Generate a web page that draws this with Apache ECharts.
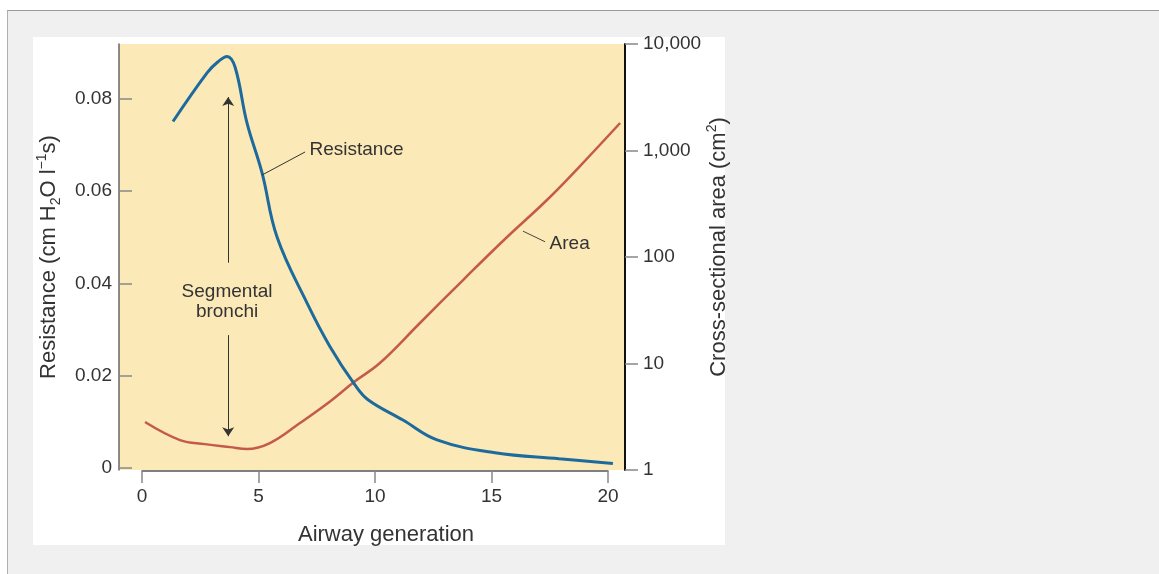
<!DOCTYPE html>
<html>
<head>
<meta charset="utf-8">
<script src="https://cdn.jsdelivr.net/npm/echarts@6/dist/echarts.min.js"></script>
<style>
  html, body { margin: 0; padding: 0; background: #fff; }
  #frame { position: absolute; left: 7px; top: 10px; right: 0; bottom: 0; background: #f0f0f0; border-top: 1px solid #9a9a9a; border-left: 1px solid #b0b0b0; }
  #panel { position: absolute; left: 33px; top: 37px; width: 692px; height: 508px; background: #fff; }
  #chart { position: absolute; left: 0; top: 0; width: 1159px; height: 574px; }
</style>
</head>
<body>
<div id="frame"></div>
<div id="panel"></div>
<div id="chart"></div>
<script>
// airway generation vs resistance (left axis)
const genResistance = [1.33, 2.8, 3.25, 3.65, 4.0, 4.5, 5.15, 5.8, 7.08, 8.07, 9.14, 9.7, 11.2, 12.66, 15.15, 17.9, 20.21];
const resistance = [0.0751, 0.0857, 0.088, 0.0892, 0.0868, 0.0749, 0.064, 0.05, 0.0358, 0.0263, 0.018, 0.0148, 0.0104, 0.0061, 0.0033, 0.002, 0.001];

// airway generation vs cross-sectional area (right axis, log)
const genArea = [0.13, 1.63, 2.7, 3.78, 4.51, 5.49, 6.78, 8.07, 9.14, 10.21, 11.93, 13.78, 15.58, 17.38, 18.8, 20.52];
const area = [2.82, 1.91, 1.75, 1.64, 1.575, 1.79, 2.76, 4.4, 6.8, 10.1, 24.0, 60.8, 147.6, 343, 715, 1812];

const resistanceTicks = [0, 0.02, 0.04, 0.06, 0.08];

// annotations (data space)
const segmentalX = 3.7;
const segmentalUp = [0.0445, 0.0804];
const segmentalDown = [0.0288, 0.0069];
const segmentalText = [3.65, 0.0361];
const resistanceLeader = [[5.15, 0.0635], [7.0, 0.0685]];
const areaLeader = [[16.35, 175], [17.3, 139]];

const FONT = '"Liberation Sans", Arial, Helvetica, sans-serif';
const TXT = '#333';

const chart = echarts.init(document.getElementById('chart'));

const option = {
  animation: false,
  textStyle: { fontFamily: FONT },
  grid: [
    { left: 119, top: 44, width: 506, height: 426, show: true, backgroundColor: '#fce9b8', borderWidth: 0, outerBoundsMode: 'none', containLabel: false },
    { left: 142, top: 470, width: 466, height: 1, show: false, outerBoundsMode: 'none', containLabel: false }
  ],
  xAxis: [
    { gridIndex: 0, type: 'value', min: -0.987, max: 20.73, show: false },
    {
      gridIndex: 1, type: 'value', min: 0, max: 20, interval: 5, position: 'bottom',
      axisLine: { onZero: false, lineStyle: { color: '#555', width: 1.5 } },
      axisTick: { show: true, length: 12, lineStyle: { color: '#888', width: 1.5 } },
      axisLabel: { margin: 16, fontSize: 19, color: TXT, fontFamily: FONT },
      splitLine: { show: false },
      name: 'Airway generation', nameLocation: 'middle', nameGap: 53,
      nameTextStyle: { fontSize: 22, color: TXT, fontFamily: FONT, padding: [0, 0, 0, 22] }
    }
  ],
  yAxis: [
    {
      gridIndex: 0, type: 'value', min: -0.00043, max: 0.0919, position: 'left',
      axisLine: { show: true, onZero: false, lineStyle: { color: '#666', width: 1.5 } },
      axisTick: { show: true, inside: true, length: 13, customValues: resistanceTicks, lineStyle: { color: '#888', width: 1.5 } },
      axisLabel: { margin: 7, fontSize: 19, color: TXT, fontFamily: FONT, customValues: resistanceTicks,
        formatter: v => (v === 0 ? '0' : v.toFixed(2)) },
      splitLine: { show: false },
      name: '{n|Resistance (cm H}{sub|2}{n|O l}{sup|\u22121}{n|s)}',
      nameLocation: 'middle', nameGap: 56,
      nameTextStyle: {
        color: TXT, fontFamily: FONT, fontSize: 22,
        rich: {
          n: { fontSize: 22, lineHeight: 28, color: TXT, fontFamily: FONT },
          sub: { fontSize: 14, lineHeight: 14, verticalAlign: 'bottom', color: TXT, fontFamily: FONT },
          sup: { fontSize: 14, lineHeight: 14, verticalAlign: 'top', color: TXT, fontFamily: FONT }
        }
      }
    },
    {
      gridIndex: 0, type: 'log', logBase: 10, min: 1, max: 10000, interval: 1, position: 'right',
      axisLine: { show: true, onZero: false, lineStyle: { color: '#111', width: 2 } },
      axisTick: { show: true, inside: false, length: 13, lineStyle: { color: '#888', width: 1.5 } },
      axisLabel: { margin: 18, fontSize: 19, color: TXT, fontFamily: FONT,
        formatter: v => Math.round(v).toLocaleString('en-US') },
      splitLine: { show: false },
      minorTick: { show: false },
      name: '{n|Cross-sectional area (cm}{sup|2}{n|)}',
      nameLocation: 'middle', nameGap: 73,
      nameTextStyle: {
        color: TXT, fontFamily: FONT, fontSize: 22, padding: [0, 0, 0, 20],
        rich: {
          n: { fontSize: 22, lineHeight: 28, color: TXT, fontFamily: FONT },
          sup: { fontSize: 14, lineHeight: 14, verticalAlign: 'top', color: TXT, fontFamily: FONT }
        }
      }
    },
    { gridIndex: 1, type: 'value', min: 0, max: 1, show: false }
  ],
  series: [
    {
      name: 'Area',
      type: 'line',
      xAxisIndex: 0,
      yAxisIndex: 1,
      data: genArea.map((g, i) => [g, area[i]]),
      showSymbol: false,
      smooth: 0.4,
      lineStyle: { color: '#c45a49', width: 2.5 },
      silent: true,
      markLine: {
        silent: true,
        symbol: ['none', 'none'],
        lineStyle: { color: '#444', width: 1, type: 'solid' },
        label: { show: false },
        data: [
          [
            { coord: areaLeader[0] },
            { coord: areaLeader[1], label: { show: true, position: 'end', distance: 5, formatter: 'Area', fontSize: 19, color: TXT, fontFamily: FONT } }
          ]
        ]
      }
    },
    {
      name: 'Resistance',
      type: 'line',
      xAxisIndex: 0,
      yAxisIndex: 0,
      data: genResistance.map((g, i) => [g, resistance[i]]),
      showSymbol: false,
      smooth: 0.4,
      lineStyle: { color: '#1d6a9c', width: 3 },
      silent: true,
      markLine: {
        silent: true,
        symbol: ['none', 'none'],
        symbolSize: 9,
        lineStyle: { color: '#333', width: 1, type: 'solid' },
        label: { show: false },
        data: [
          [
            { coord: resistanceLeader[0] },
            { coord: resistanceLeader[1], label: { show: true, position: 'end', distance: 5, formatter: 'Resistance', fontSize: 19, color: TXT, fontFamily: FONT } }
          ],
          [
            { coord: [segmentalX, segmentalUp[0]], symbol: 'none' },
            { coord: [segmentalX, segmentalUp[1]], symbol: 'arrow', symbolSize: 9, itemStyle: { color: '#111' } }
          ],
          [
            { coord: [segmentalX, segmentalDown[0]], symbol: 'none' },
            { coord: [segmentalX, segmentalDown[1]], symbol: 'arrow', symbolSize: 9, itemStyle: { color: '#111' } }
          ]
        ]
      },
      markPoint: {
        silent: true,
        symbol: 'circle',
        symbolSize: 1,
        itemStyle: { color: 'rgba(0,0,0,0)' },
        label: { show: true, position: 'inside', formatter: 'Segmental\nbronchi', fontSize: 19, lineHeight: 20, color: TXT, fontFamily: FONT },
        data: [{ coord: segmentalText }]
      }
    }
  ]
};

chart.setOption(option);
</script>
</body>
</html>
